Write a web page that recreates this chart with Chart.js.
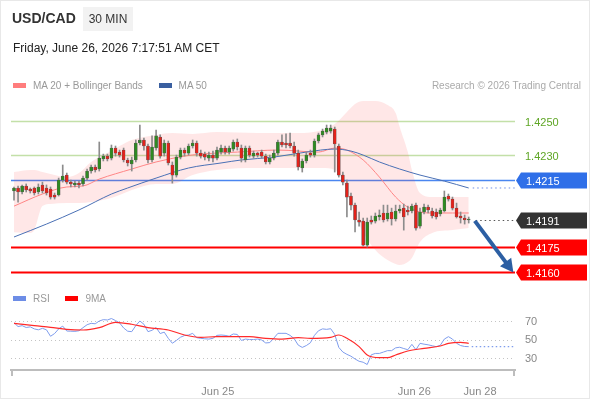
<!DOCTYPE html>
<html lang="en">

<head>
    <meta charset="UTF-8">
    <title>USD/CAD 30 MIN</title>
    <script src="https://cdn.jsdelivr.net/npm/chart.js@4"></script>
    <style>
        body { margin: 0; background: #fff; font-family: 'Liberation Sans', Arial, sans-serif; }
        .frame { position: relative; width: 590px; height: 400px; overflow: hidden; }
        .edge { position: absolute; left: 0; top: 0; width: 590px; height: 399px; box-sizing: border-box; border: 1px solid #e8e8e8; pointer-events: none; }
        canvas { position: absolute; left: 0; top: 0; }
        .pair { position: absolute; left: 12px; top: 10px; font-size: 14px; font-weight: bold; color: #333; }
        .period { position: absolute; left: 83px; top: 7px; width: 50px; height: 24px; line-height: 24px; text-align: center; background: #f2f2f2; font-size: 12px; color: #333; }
        .stamp { position: absolute; left: 13px; top: 41px; font-size: 12px; color: #222; }
        .legend { position: absolute; left: 13px; font-size: 10px; color: #999; white-space: nowrap; }
        .legend span.sw { display: inline-block; width: 13px; height: 5px; vertical-align: middle; margin-right: 7px; position: relative; top: -1px; }
        .legend span.txt { margin-right: 13px; }
        .credit { position: absolute; right: 9px; top: 80px; font-size: 10px; color: #aaa; }
    </style>
</head>

<body>
    <div class="frame">
        <canvas id="priceChart" width="590" height="400"></canvas>
        <canvas id="rsiChart" width="590" height="400"></canvas>

        <div class="pair">USD/CAD</div>
        <div class="period">30 MIN</div>
        <div class="stamp">Friday, June 26, 2026 7:17:51 AM CET</div>
        <div class="legend" style="top:80px;">
            <span class="sw" style="background:#ff7d7d;"></span><span class="txt">MA 20 + Bollinger Bands</span>
            <span class="sw" style="background:#3a5fa0;"></span><span class="txt">MA 50</span>
        </div>
        <div class="credit">Research © 2026 Trading Central</div>
        <div class="legend" style="top:293px;">
            <span class="sw" style="background:#6d8de6;"></span><span class="txt">RSI</span>
            <span class="sw" style="background:#ff0000;"></span><span class="txt">9MA</span>
        </div>
        <div class="edge"></div>
    </div>

    <script>
        // 30 min candles, Jun 23 late evening -> Jun 26 07:00
        const opens = [1.42083, 1.42101, 1.42077, 1.42113, 1.42095, 1.42101, 1.42077, 1.42119, 1.42101, 1.42095,
            1.42059, 1.42059, 1.42148, 1.42178, 1.42136, 1.42119, 1.42130, 1.42125, 1.42160, 1.42202,
            1.42226, 1.42214, 1.42274, 1.42291, 1.42279, 1.42339, 1.42315, 1.42327, 1.42268, 1.42244,
            1.42268, 1.42369, 1.42387, 1.42351, 1.42268, 1.42339, 1.42405, 1.42309, 1.42369, 1.42238,
            1.42178, 1.42285, 1.42327, 1.42309, 1.42351, 1.42369, 1.42309, 1.42303, 1.42279, 1.42297,
            1.42279, 1.42315, 1.42339, 1.42315, 1.42333, 1.42375, 1.42339, 1.42268, 1.42339, 1.42291,
            1.42309, 1.42315, 1.42291, 1.42256, 1.42279, 1.42309, 1.42375, 1.42369, 1.42369, 1.42351,
            1.42309, 1.42220, 1.42262, 1.42309, 1.42297, 1.42381, 1.42417, 1.42434, 1.42440, 1.42452,
            1.42351, 1.42178, 1.42130, 1.42053, 1.41999, 1.41910, 1.41904, 1.41761, 1.41910, 1.41904,
            1.41928, 1.41952, 1.41916, 1.41958, 1.41916, 1.41964, 1.41981, 1.41970, 1.41964, 1.41999,
            1.41874, 1.41958, 1.41987, 1.41964, 1.41958, 1.41946, 1.41964, 1.42053, 1.42035, 1.41981,
            1.41934, 1.41922, 1.41910];
        const highs = [1.42107, 1.42113, 1.42119, 1.42125, 1.42101, 1.42107, 1.42125, 1.42136, 1.42119, 1.42107,
            1.42071, 1.42160, 1.42238, 1.42190, 1.42148, 1.42142, 1.42142, 1.42172, 1.42214, 1.42238,
            1.42238, 1.42375, 1.42303, 1.42303, 1.42357, 1.42351, 1.42327, 1.42339, 1.42279, 1.42285,
            1.42387, 1.42476, 1.42399, 1.42363, 1.42411, 1.42446, 1.42417, 1.42387, 1.42381, 1.42256,
            1.42297, 1.42339, 1.42339, 1.42363, 1.42387, 1.42381, 1.42327, 1.42315, 1.42315, 1.42321,
            1.42345, 1.42357, 1.42351, 1.42351, 1.42387, 1.42393, 1.42357, 1.42351, 1.42351, 1.42321,
            1.42315, 1.42327, 1.42303, 1.42297, 1.42327, 1.42387, 1.42417, 1.42423, 1.42428, 1.42375,
            1.42327, 1.42274, 1.42315, 1.42327, 1.42393, 1.42428, 1.42452, 1.42476, 1.42476, 1.42464,
            1.42363, 1.42196, 1.42148, 1.42071, 1.42011, 1.41958, 1.41922, 1.41922, 1.41934, 1.41952,
            1.41970, 1.41999, 1.41999, 1.41981, 1.41999, 1.41999, 1.42005, 1.41993, 1.42005, 1.42011,
            1.41981, 1.42005, 1.41999, 1.41981, 1.41976, 1.41981, 1.42083, 1.42065, 1.42047, 1.42011,
            1.41958, 1.41940, 1.41928];
        const lows = [1.42029, 1.42017, 1.42065, 1.42077, 1.42071, 1.42059, 1.42065, 1.42071, 1.42059, 1.42035,
            1.42035, 1.42053, 1.42136, 1.42125, 1.42107, 1.42107, 1.42101, 1.42113, 1.42148, 1.42190,
            1.42196, 1.42202, 1.42262, 1.42262, 1.42268, 1.42291, 1.42285, 1.42256, 1.42232, 1.42202,
            1.42256, 1.42357, 1.42327, 1.42250, 1.42256, 1.42327, 1.42279, 1.42291, 1.42238, 1.42130,
            1.42166, 1.42274, 1.42291, 1.42297, 1.42339, 1.42291, 1.42279, 1.42268, 1.42262, 1.42256,
            1.42268, 1.42303, 1.42303, 1.42303, 1.42321, 1.42327, 1.42256, 1.42256, 1.42285, 1.42279,
            1.42285, 1.42279, 1.42244, 1.42244, 1.42268, 1.42297, 1.42345, 1.42339, 1.42339, 1.42291,
            1.42208, 1.42196, 1.42250, 1.42285, 1.42285, 1.42369, 1.42405, 1.42423, 1.42428, 1.42196,
            1.42166, 1.42119, 1.41928, 1.41970, 1.41839, 1.41874, 1.41755, 1.41749, 1.41886, 1.41892,
            1.41910, 1.41898, 1.41904, 1.41880, 1.41904, 1.41952, 1.41850, 1.41940, 1.41952, 1.41850,
            1.41862, 1.41946, 1.41952, 1.41922, 1.41916, 1.41934, 1.41958, 1.42023, 1.41970, 1.41922,
            1.41892, 1.41886, 1.41892];
        const closes = [1.42101, 1.42077, 1.42113, 1.42089, 1.42083, 1.42071, 1.42107, 1.42083, 1.42071, 1.42047,
            1.42047, 1.42148, 1.42172, 1.42136, 1.42125, 1.42130, 1.42119, 1.42160, 1.42202, 1.42226,
            1.42208, 1.42279, 1.42291, 1.42274, 1.42339, 1.42309, 1.42297, 1.42268, 1.42250, 1.42268,
            1.42369, 1.42387, 1.42351, 1.42268, 1.42345, 1.42411, 1.42291, 1.42369, 1.42250, 1.42178,
            1.42285, 1.42327, 1.42309, 1.42351, 1.42369, 1.42309, 1.42291, 1.42285, 1.42297, 1.42279,
            1.42327, 1.42339, 1.42315, 1.42339, 1.42375, 1.42345, 1.42279, 1.42339, 1.42297, 1.42309,
            1.42297, 1.42291, 1.42256, 1.42279, 1.42309, 1.42375, 1.42357, 1.42357, 1.42351, 1.42309,
            1.42226, 1.42262, 1.42297, 1.42297, 1.42381, 1.42417, 1.42440, 1.42458, 1.42458, 1.42363,
            1.42178, 1.42136, 1.42047, 1.41999, 1.41910, 1.41898, 1.41761, 1.41898, 1.41898, 1.41934,
            1.41940, 1.41910, 1.41952, 1.41916, 1.41964, 1.41976, 1.41928, 1.41958, 1.41993, 1.41862,
            1.41958, 1.41987, 1.41970, 1.41934, 1.41928, 1.41970, 1.42047, 1.42035, 1.41981, 1.41928,
            1.41922, 1.41910, 1.41910];

        // indicators at a few candle indices
        const bandIdx = [0, 4, 5, 7, 9, 13, 16, 19, 23, 26, 29, 35, 39, 44, 50, 60, 70, 76, 79, 82, 84, 86, 89, 92, 94, 95, 97, 98, 100, 103, 108, 112];
        const bandUpper = [1.42196, 1.42208, 1.42208, 1.42196, 1.42184, 1.42166, 1.42190, 1.42256, 1.42309, 1.42351, 1.42387,
            1.42417, 1.42428, 1.42423, 1.42434, 1.42428, 1.42428, 1.42446, 1.42482, 1.42554, 1.42601, 1.42619,
            1.42619, 1.42595, 1.42548, 1.42464, 1.42315, 1.42208, 1.42071, 1.42047, 1.42047, 1.42047];
        const bandLower = [1.41838, 1.41833, 1.41850, 1.41993, 1.42005, 1.42011, 1.42011, 1.42017, 1.42035, 1.42059, 1.42089,
            1.42125, 1.42125, 1.42178, 1.42208, 1.42220, 1.42220, 1.42220, 1.42208, 1.42089, 1.41940, 1.41838,
            1.41731, 1.41672, 1.41648, 1.41642, 1.41660, 1.41684, 1.41779, 1.41833, 1.41850, 1.41862];
        const ma20Idx = [0, 7, 13, 17, 21, 29, 35, 42, 46, 55, 65, 75, 79, 82, 86, 90, 94, 97, 102, 108, 112];
        const ma20 = [1.41993, 1.42065, 1.42107, 1.42113, 1.42154, 1.42214, 1.42256, 1.42291, 1.42303, 1.42315, 1.42327,
            1.42315, 1.42339, 1.42327, 1.42268, 1.42166, 1.42047, 1.41987, 1.41952, 1.41952, 1.41952];
        const ma50Idx = [0, 8, 16, 24, 28, 35, 43, 51, 56, 64, 72, 79, 83, 86, 90, 95, 100, 106, 112];
        const ma50 = [1.41809, 1.41886, 1.41970, 1.42065, 1.42101, 1.42160, 1.42220, 1.42250, 1.42268, 1.42285, 1.42315,
            1.42333, 1.42321, 1.42297, 1.42256, 1.42214, 1.42178, 1.42142, 1.42101];

        const rsi = [68.7, 64.5, 65.5, 63.5, 64.2, 62, 61, 62.6, 61, 54,
            57, 62, 65, 59.7, 59.5, 59.3, 60, 63.3, 66.5, 68,
            67.5, 70.5, 72, 71.6, 73.2, 71, 68.5, 63, 59.5, 59,
            65.5, 70.5, 67, 59, 60.5, 63.5, 57, 58.5, 51.8, 46.5,
            49.5, 53, 54.8, 55.4, 57.2, 52.5, 51.8, 51.3, 51, 51.8,
            55, 55.4, 55, 54, 56.5, 56, 49.5, 51, 50.5, 50.5,
            51, 50, 46.8, 47.2, 52, 57.2, 57.2, 57.2, 55, 51.5,
            44.5, 42, 44, 47, 55, 60, 62, 61.5, 62.2, 56,
            42, 37, 34.5, 32.5, 29.5, 27, 26, 23.5, 34, 35.5,
            35.5, 37, 38.5, 38.5, 41.5, 42.2, 40.8, 39.5, 45.3, 39.5,
            46.4, 45.5, 44.8, 43.8, 42.8, 44.3, 51, 53.6, 51, 46.5,
            44, 43, 42.8];
        const rsiMaIdx = [0, 5, 9, 13, 17, 21, 25, 29, 33, 38, 42, 46, 50, 54, 58, 62, 66, 70, 73, 78, 80, 82, 85, 87, 90, 92, 94, 97, 101, 105, 107, 110, 112];
        const rsiMa = [68, 65.5, 63.7, 61.5, 60.8, 63.3, 69.1, 67, 63.3, 60.8, 55.4, 52.9, 53.6, 53.6, 53.6, 51.8, 51,
            52.5, 51.8, 52.9, 55.4, 51.8, 42.8, 33.8, 30.9, 30.9, 33.8, 38.1, 41, 43.5, 46.4, 47.5, 46.4];
        const rsiLevels = [30, 50, 70];

        // key levels on the right
        const levelValues = [1.4250, 1.4230, 1.4215, 1.4191, 1.4175, 1.4160];
        const levelKinds = ['target', 'target', 'pivot', 'last', 'support', 'support'];

        // projection arrow: [candle index, price]
        const arrowFrom = [113.5, 1.41905];
        const arrowTo = [123.0, 1.41598];

        // time axis
        const xTickPos = [50.2, 98.6, 114.8];
        const xTickLabels = ['Jun 25', 'Jun 26', 'Jun 28'];
        const xMin = -0.74, xMax = 123.4;
        const priceMin = 1.41523, priceMax = 1.42655;
        const rsiMin = 17.6, rsiMax = 93.2;

        Chart.defaults.font.family = "'Liberation Sans', Arial, sans-serif";

        const pts = (idx, vals) => idx.map((i, k) => ({ x: i, y: vals[k] }));
        const candleIdx = opens.map((_, i) => i);

        function drawTag(ctx, left, yc, color, text) {
            ctx.fillStyle = color;
            ctx.beginPath();
            ctx.moveTo(left, yc);
            ctx.lineTo(left + 5, yc - 8);
            ctx.lineTo(left + 71, yc - 8);
            ctx.lineTo(left + 71, yc + 8);
            ctx.lineTo(left + 5, yc + 8);
            ctx.closePath();
            ctx.fill();
            ctx.fillStyle = '#fff';
            ctx.fillText(text, left + 10, yc + 1);
        }

        const levelPlugin = {
            id: 'levels',
            beforeDatasetsDraw(chart) {
                const { ctx, chartArea: a, scales: { x, y } } = chart;
                ctx.save();
                levelValues.forEach((v, k) => {
                    const py = Math.round(y.getPixelForValue(v)) + 0.5;
                    const kind = levelKinds[k];
                    if (kind === 'last') return;
                    ctx.beginPath();
                    if (kind === 'target') { ctx.strokeStyle = '#c3e0a8'; ctx.lineWidth = 1.3; }
                    if (kind === 'pivot') { ctx.strokeStyle = '#4a86f0'; ctx.lineWidth = 1.5; }
                    if (kind === 'support') { ctx.strokeStyle = '#ff0000'; ctx.lineWidth = 2; }
                    ctx.moveTo(a.left, py);
                    ctx.lineTo(a.right, py);
                    ctx.stroke();
                });
                ctx.restore();
            },
            afterDraw(chart) {
                const { ctx, chartArea: a, scales: { x, y } } = chart;
                const last = closes.length - 1;
                ctx.save();
                // dotted continuations
                ctx.setLineDash([1.5, 3]);
                ctx.lineWidth = 1;
                ctx.strokeStyle = '#6d8de6';
                let py = y.getPixelForValue(ma50[ma50.length - 1]);
                ctx.beginPath();
                ctx.moveTo(x.getPixelForValue(ma50Idx[ma50Idx.length - 1]) + 4, py);
                ctx.lineTo(a.right, py);
                ctx.stroke();
                ctx.strokeStyle = '#555';
                py = Math.round(y.getPixelForValue(levelValues[3])) + 0.5;
                ctx.beginPath();
                ctx.moveTo(x.getPixelForValue(last) + 7, py);
                ctx.lineTo(a.right, py);
                ctx.stroke();
                ctx.setLineDash([]);

                // arrow
                const x1 = x.getPixelForValue(arrowFrom[0]), y1 = y.getPixelForValue(arrowFrom[1]);
                const x2 = x.getPixelForValue(arrowTo[0]), y2 = y.getPixelForValue(arrowTo[1]);
                const ang = Math.atan2(y2 - y1, x2 - x1);
                const head = 13;
                ctx.strokeStyle = '#2c5fa3';
                ctx.fillStyle = '#2c5fa3';
                ctx.lineWidth = 4;
                ctx.beginPath();
                ctx.moveTo(x1, y1);
                ctx.lineTo(x2 - Math.cos(ang) * head * 0.8, y2 - Math.sin(ang) * head * 0.8);
                ctx.stroke();
                ctx.beginPath();
                ctx.moveTo(x2, y2);
                ctx.lineTo(x2 - head * Math.cos(ang) + 7 * Math.sin(ang), y2 - head * Math.sin(ang) - 7 * Math.cos(ang));
                ctx.lineTo(x2 - head * Math.cos(ang) - 7 * Math.sin(ang), y2 - head * Math.sin(ang) + 7 * Math.cos(ang));
                ctx.closePath();
                ctx.fill();

                // labels
                ctx.font = "11px 'Liberation Sans', Arial, sans-serif";
                ctx.textBaseline = 'middle';
                ctx.textAlign = 'left';
                levelValues.forEach((v, k) => {
                    const yc = Math.round(y.getPixelForValue(v)) + 0.5;
                    const text = v.toFixed(4);
                    const kind = levelKinds[k];
                    if (kind === 'target') {
                        ctx.fillStyle = '#5fa625';
                        ctx.fillText(text, a.right + 10, yc + 1);
                    } else {
                        const col = kind === 'pivot' ? '#2f6fe8' : kind === 'last' ? '#333333' : '#ff0000';
                        drawTag(ctx, a.right + 1, yc, col, text);
                    }
                });
                ctx.restore();
            }
        };

        new Chart(document.getElementById('priceChart'), {
            type: 'bar',
            data: {
                datasets: [{
                    type: 'line',
                    data: pts(bandIdx, bandUpper),
                    borderColor: 'transparent',
                    backgroundColor: 'rgba(255, 70, 70, 0.13)',
                    pointRadius: 0,
                    fill: '+1',
                    cubicInterpolationMode: 'monotone',
                    order: 6
                }, {
                    type: 'line',
                    data: pts(bandIdx, bandLower),
                    borderColor: 'transparent',
                    pointRadius: 0,
                    fill: false,
                    cubicInterpolationMode: 'monotone',
                    order: 6
                }, {
                    type: 'line',
                    data: pts(ma20Idx, ma20),
                    borderColor: '#ff8585',
                    borderWidth: 1,
                    pointRadius: 0,
                    cubicInterpolationMode: 'monotone',
                    order: 4
                }, {
                    type: 'line',
                    data: pts(ma50Idx, ma50),
                    borderColor: '#4a70b5',
                    borderWidth: 1,
                    pointRadius: 0,
                    cubicInterpolationMode: 'monotone',
                    order: 3
                }, {
                    // wicks
                    data: candleIdx.map(i => ({ x: i, y: [lows[i], highs[i]] })),
                    backgroundColor: '#8c8c8c',
                    barThickness: 1,
                    grouped: false,
                    order: 2
                }, {
                    // bodies
                    data: candleIdx.map(i => ({ x: i, y: [opens[i], closes[i]] })),
                    backgroundColor: candleIdx.map(i => closes[i] >= opens[i] ? '#2f8a22' : '#e3221b'),
                    borderColor: '#555',
                    borderWidth: 0.5,
                    borderSkipped: false,
                    barThickness: 3,
                    minBarLength: 1,
                    grouped: false,
                    order: 1
                }]
            },
            options: {
                responsive: false,
                animation: false,
                events: [],
                layout: { padding: { left: 11, right: 75, top: 95, bottom: 115 } },
                plugins: { legend: { display: false }, tooltip: { enabled: false } },
                scales: {
                    x: { type: 'linear', min: xMin, max: xMax, offset: false, display: false },
                    y: { type: 'linear', min: priceMin, max: priceMax, display: false }
                }
            },
            plugins: [levelPlugin]
        });

        const rsiPlugin = {
            id: 'rsiExtras',
            afterDraw(chart) {
                const { ctx, chartArea: a, scales: { x, y } } = chart;
                ctx.save();
                ctx.strokeStyle = '#bdbdbd';
                ctx.lineWidth = 2;
                ctx.beginPath();
                ctx.moveTo(a.left + 1, a.bottom);
                ctx.lineTo(a.left + 1, a.bottom + 6);
                ctx.moveTo(a.right - 1, a.bottom);
                ctx.lineTo(a.right - 1, a.bottom + 6);
                ctx.stroke();
                const py = y.getPixelForValue(rsi[rsi.length - 1]);
                ctx.strokeStyle = '#7f9ded';
                ctx.lineWidth = 1.2;
                ctx.setLineDash([1.5, 2.5]);
                ctx.beginPath();
                ctx.moveTo(x.getPixelForValue(rsi.length - 1) + 3, py);
                ctx.lineTo(a.right, py);
                ctx.stroke();
                ctx.restore();
            }
        };

        new Chart(document.getElementById('rsiChart'), {
            type: 'line',
            data: {
                datasets: [{
                    data: rsi.map((v, i) => ({ x: i, y: v })),
                    borderColor: '#7f9ded',
                    borderWidth: 1,
                    pointRadius: 0,
                    order: 2
                }, {
                    data: pts(rsiMaIdx, rsiMa),
                    borderColor: '#ff2a2a',
                    borderWidth: 1.2,
                    pointRadius: 0,
                    cubicInterpolationMode: 'monotone',
                    order: 1
                }]
            },
            options: {
                responsive: false,
                animation: false,
                events: [],
                layout: { padding: { left: 11, right: 0, top: 300, bottom: 0 } },
                plugins: { legend: { display: false }, tooltip: { enabled: false } },
                scales: {
                    x: {
                        type: 'linear', min: xMin, max: xMax, offset: false,
                        afterFit: s => { s.height = 30; },
                        afterBuildTicks: s => { s.ticks = xTickPos.map(v => ({ value: v })); },
                        ticks: { callback: (v, i) => xTickLabels[i], color: '#888', font: { size: 11 }, padding: 7, maxRotation: 0, autoSkip: false },
                        grid: { display: false },
                        border: { display: true, color: '#bdbdbd', width: 2 }
                    },
                    y: {
                        position: 'right', min: rsiMin, max: rsiMax,
                        afterFit: s => { s.width = 75; },
                        afterBuildTicks: s => { s.ticks = rsiLevels.map(v => ({ value: v })); },
                        ticks: { color: '#888', font: { size: 11 }, padding: 10 },
                        grid: { color: '#c4c4c4', drawTicks: false, lineWidth: 1 },
                        border: { display: false, dash: [1, 3] }
                    }
                }
            },
            plugins: [rsiPlugin]
        });
    </script>
</body>

</html>
